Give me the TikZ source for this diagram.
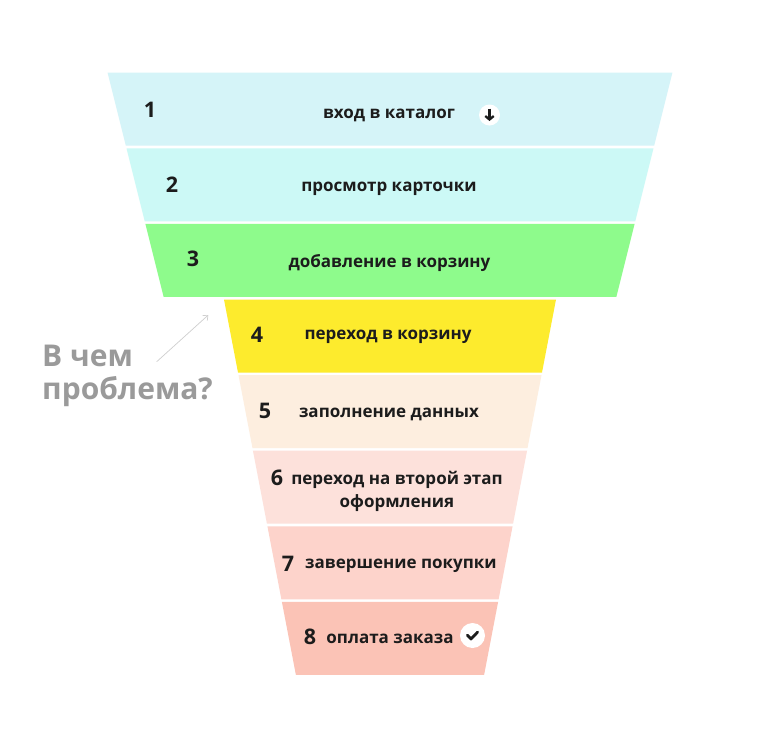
\documentclass[tikz,border=0pt]{standalone}
\usepackage{fontspec}
\setmainfont{Open Sans}
\usetikzlibrary{arrows.meta}
\definecolor{bandA}{HTML}{D5F4F8}
\definecolor{bandB}{HTML}{CCF9F6}
\definecolor{bandC}{HTML}{8EFB8C}
\definecolor{bandD}{HTML}{FDEB2D}
\definecolor{bandE}{HTML}{FDEEDF}
\definecolor{bandF}{HTML}{FDE1DB}
\definecolor{bandG}{HTML}{FDD3CB}
\definecolor{bandH}{HTML}{FBC3B6}
\definecolor{txtc}{HTML}{1C1C1C}
\definecolor{qgray}{HTML}{9A9A9A}
\definecolor{lgray}{HTML}{CFCFCF}
\tikzset{
  lbl/.style={font=\fontsize{17}{23}\selectfont\bfseries, text=txtc, inner sep=0pt, align=center},
  num/.style={font=\fontsize{21.5}{24}\selectfont\bfseries, text=txtc, inner sep=0pt},
  qtext/.style={font=\fontsize{30}{33}\selectfont\bfseries, text=qgray, inner sep=0pt, anchor=base west},
  iconcircle/.style={circle, fill=white, inner sep=0pt},
}
\begin{document}
\begin{tikzpicture}[x=1pt,y=-1pt]
\useasboundingbox (0,0) rectangle (780,750);
\fill[white] (0,0) rectangle (780,750);
% bands (upper funnel part)
\fill[bandA] (390-282.4,72.7) -- (390+282.4,72.7) -- (390+264.15,145.7) -- (390-264.15,145.7) -- cycle;
\fill[bandB] (390-263.5,148.3) -- (390+263.5,148.3) -- (390+245.25,221.3) -- (390-245.25,221.3) -- cycle;
\fill[bandC] (390-244.6,223.9) -- (390+244.6,223.9) -- (390+226.35,296.9) -- (390-226.35,296.9) -- cycle;
% bands (lower funnel part)
\fill[bandD] (390-166,299.5) -- (390+166,299.5) -- (390+152,372.5) -- (390-152,372.5) -- cycle;
\fill[bandE] (390-151.5,375.1) -- (390+151.5,375.1) -- (390+137.5,448.1) -- (390-137.5,448.1) -- cycle;
\fill[bandF] (390-137.05,450.7) -- (390+137.05,450.7) -- (390+123.07,523.7) -- (390-123.07,523.7) -- cycle;
\fill[bandG] (390-122.57,526.3) -- (390+122.57,526.3) -- (390+108.6,599.3) -- (390-108.6,599.3) -- cycle;
\fill[bandH] (390-108.1,601.9) -- (390+108.1,601.9) -- (390+94.1,674.9) -- (390-94.1,674.9) -- cycle;
% numbers
\node[num] (n1) at (150,110) {1};
\node[num] (n2) at (172,185) {2};
\node[num] (n3) at (193,259) {3};
\node[num] (n4) at (257,335) {4};
\node[num] (n5) at (265,411) {5};
\node[num] (n6) at (277,478) {6};
\node[num] (n7) at (288,564) {7};
\node[num] (n8) at (310,637) {8};
% labels
\node[lbl] (l1) at (389,115) {вход в каталог};
\node[lbl] (l2) at (389,189) {просмотр карточки};
\node[lbl] (l3) at (389.5,263.5) {добавление в корзину};
\node[lbl] (l4) at (388,337) {переход в корзину};
\node[lbl] (l5) at (389,414) {заполнение данных};
\node[lbl] (l6) at (397,491) {переход на второй этап\\оформления};
\node[lbl] (l7) at (401,566) {завершение покупки};
\node[lbl] (l8) at (390,639) {оплата заказа};
% icons
\node[iconcircle, minimum size=21pt] (down) at (489.5,115) {};
\draw[txtc, line width=2.3pt, -{Straight Barb[length=3.5pt,width=8.5pt]}] ([yshift=6.5pt]down.center) -- ([yshift=-6pt]down.center);
\node[iconcircle, minimum size=25pt] (chk) at (472.5,635.5) {};
\draw[txtc, line width=2.8pt, line cap=round, line join=round] ([xshift=-5.2pt,yshift=0.3pt]chk.center) -- ([xshift=-1.5pt,yshift=-3.5pt]chk.center) -- ([xshift=5.2pt,yshift=3.5pt]chk.center);
% question
\node[qtext] (q1) at (42,366.7) {В чем};
\node[qtext] (q2) at (42,399.5) {проблема?};
\coordinate (qa) at (156.7,361.7);
\coordinate (qb) at (208.3,315);
\draw[lgray, line width=0.7pt, -{Straight Barb[length=4pt,width=7pt]}] (qa) -- (qb);
\end{tikzpicture}
\end{document}
